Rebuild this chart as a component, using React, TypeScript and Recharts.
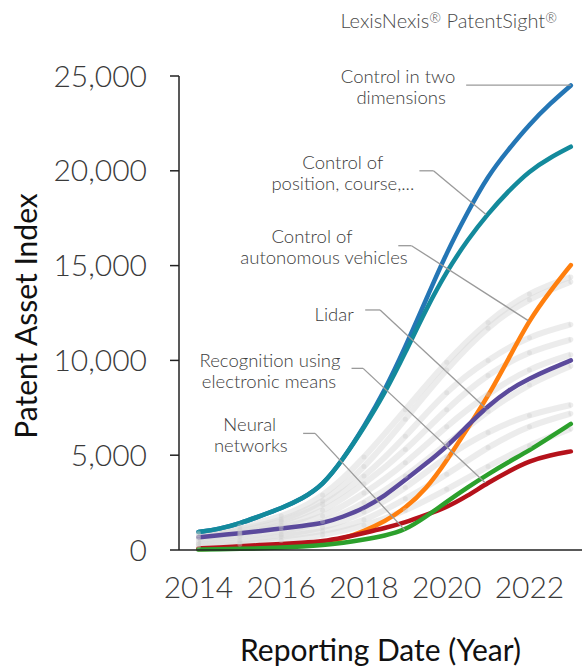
import React from "react";
import { LineChart, Line, XAxis, YAxis, ReferenceLine, ReferenceDot } from "recharts";

// reporting dates, half-year steps for the highlighted fields
const halfYears = [2014, 2014.5, 2015, 2015.5, 2016, 2016.5, 2017, 2017.5, 2018, 2018.5, 2019, 2019.5, 2020, 2020.5, 2021, 2021.5, 2022, 2022.5, 2023];
// yearly steps for the grey background fields
const years = [2014, 2015, 2016, 2017, 2018, 2019, 2020, 2021, 2022, 2023];

const yearTicks = [2014, 2016, 2018, 2020, 2022];
const valueTicks = [0, 5000, 10000, 15000, 20000, 25000];

const twoDimensions = [950, 1100, 1400, 1800, 2200, 2700, 3400, 4800, 6500, 8400, 10700, 13200, 15700, 17800, 19750, 21150, 22450, 23550, 24500];
const positionCourse = [950, 1100, 1400, 1800, 2200, 2700, 3400, 4800, 6450, 8250, 10400, 12700, 14700, 16350, 17750, 18950, 20000, 20700, 21270];
const autonomousVehicles = [50, 80, 110, 150, 200, 260, 350, 600, 1000, 1500, 2200, 3200, 4700, 6400, 8100, 10100, 12150, 13650, 15030];
const lidar = [670, 780, 880, 1000, 1140, 1270, 1400, 1750, 2200, 2850, 3700, 4550, 5450, 6550, 7600, 8450, 9050, 9550, 10000];
const recognition = [80, 130, 200, 260, 320, 380, 450, 650, 900, 1150, 1450, 1850, 2250, 2850, 3550, 4150, 4700, 5000, 5200];
const neuralNetworks = [20, 40, 60, 90, 130, 180, 250, 380, 550, 750, 1050, 1750, 2550, 3300, 4000, 4650, 5250, 5950, 6650];

const greyFields = [
  [900, 1250, 1800, 2900, 4900, 7400, 9900, 12000, 13500, 14400],
  [800, 1100, 1600, 2600, 4400, 6900, 9500, 11700, 13200, 14150],
  [700, 1000, 1500, 2400, 3900, 6000, 8300, 10000, 11200, 11900],
  [600, 900, 1300, 2100, 3500, 5300, 7400, 9200, 10400, 11100],
  [500, 800, 1200, 1800, 3000, 4600, 6500, 8200, 9500, 10300],
  [400, 700, 1000, 1500, 2500, 3900, 5600, 7300, 8700, 9700],
  [300, 500, 800, 1200, 2000, 3300, 4900, 6200, 7100, 7650],
  [300, 400, 700, 1000, 1600, 2700, 4000, 5400, 6500, 7200],
  [200, 300, 500, 800, 1300, 2100, 3200, 4400, 5500, 6400],
];

const fields = [
  { name: "Control of autonomous vehicles", values: autonomousVehicles, color: "#ff7f0e" },
  { name: "Recognition using electronic means", values: recognition, color: "#b5121b" },
  { name: "Neural networks", values: neuralNetworks, color: "#2ca02c" },
  { name: "Lidar", values: lidar, color: "#5b4a9c" },
  { name: "Control in two dimensions", values: twoDimensions, color: "#2476b5" },
  { name: "Control of position, course,...", values: positionCourse, color: "#138a9c" },
];

// callouts: text anchor and leader path in data units
const callouts = [
  { lines: ["Control in two", "dimensions"], at: [2018.85, 24960], dx: [-1, 2], path: [[2020.47, 24520], [2023, 24520]] },
  { lines: ["Control of", "position, course,..."], at: [2017.49, 20390], dx: [0, 0], path: [[2019.34, 20000], [2019.68, 20000], [2020.95, 17700]] },
  { lines: ["Control of", "autonomous vehicles"], at: [2016.89, 16520], dx: [-6, 6], path: [[2018.83, 16050], [2019.15, 16050], [2021.97, 12100]] },
  { lines: ["Lidar"], at: [2017.28, 12390], dx: [0], path: [[2018.03, 12660], [2018.39, 12660], [2020.93, 7500]] },
  { lines: ["Recognition using", "electronic means"], at: [2015.73, 9970], dx: [0, -1], path: [[2017.7, 9580], [2017.98, 9580], [2020.93, 3550]] },
  { lines: ["Neural", "networks"], at: [2015.24, 6590], dx: [0, 1], path: [[2016.53, 6150], [2016.82, 6150], [2018.99, 1050]] },
];

const FONT = "Lato, 'Open Sans', sans-serif";

const toPoints = (xs: number[], vs: number[]) => xs.map((year, i) => ({ year, v: vs[i] }));

export default function App() {
  return (
    <div style={{ position: "relative", width: 582, height: 667, fontFamily: FONT }}>
      <style>{"body{margin:0}"}</style>
      <div style={{ position: "absolute", right: 25, top: 8, fontSize: 20, color: "#4a4a4a", whiteSpace: "nowrap", fontWeight: 300 }}>
        LexisNexis<span style={{ fontSize: 14, position: "relative", top: -5 }}>®</span> PatentSight
        <span style={{ fontSize: 14, position: "relative", top: -5 }}>®</span>
      </div>
      <LineChart width={582} height={667} margin={{ top: 76, right: 0, bottom: 0, left: 0 }}>
        <XAxis
          type="number"
          dataKey="year"
          domain={[2013.53, 2023.27]}
          ticks={yearTicks}
          allowDataOverflow
          height={117}
          tickLine={false}
          tickSize={0}
          tickMargin={27}
          axisLine={{ stroke: "#222", strokeWidth: 1.5 }}
          tick={{ fontSize: 30, fontFamily: FONT, fontWeight: 300, fill: "#3a3a3a" }}
          label={{
            content: (p: any) => (
              <text x={p.viewBox.x + p.viewBox.width / 2} y={p.viewBox.y + 111} textAnchor="middle" fontSize={30} fontFamily={FONT} fill="#111">
                Reporting Date (Year)
              </text>
            ),
          }}
        />
        <YAxis
          type="number"
          domain={[0, 25000]}
          ticks={valueTicks}
          width={179}
          tickSize={9}
          tickMargin={23}
          tickFormatter={(v: number) => v.toLocaleString("en-US")}
          axisLine={{ stroke: "#222", strokeWidth: 1.5 }}
          tickLine={{ stroke: "#222", strokeWidth: 1.5 }}
          tick={{ fontSize: 30, fontFamily: FONT, fontWeight: 300, fill: "#3a3a3a" }}
          label={{
            content: (p: any) => {
              const x = p.viewBox.x + 37;
              const y = p.viewBox.y + p.viewBox.height / 2 + 3;
              return (
                <text x={x} y={y} transform={`rotate(-90, ${x}, ${y})`} textAnchor="middle" fontSize={30} fontFamily={FONT} fill="#111">
                  Patent Asset Index
                </text>
              );
            },
          }}
        />

        {greyFields.map((vals, i) => (
          <Line
            key={"g" + i}
            data={toPoints(years, vals)}
            dataKey="v"
            type="natural"
            stroke="#dadada"
            strokeOpacity={0.5}
            strokeWidth={6}
            dot={{ r: 2.5, fill: "#cccccc", fillOpacity: 0.35, stroke: "none" }}
            isAnimationActive={false}
          />
        ))}

        {fields.map((f) => (
          <Line
            key={f.name}
            name={f.name}
            data={toPoints(halfYears, f.values)}
            dataKey="v"
            type="basis"
            stroke={f.color}
            strokeWidth={4.5}
            strokeLinecap="round"
            dot={false}
            isAnimationActive={false}
          />
        ))}

        {callouts.map((c, i) =>
          c.path.slice(1).map((pt, j) => (
            <ReferenceLine
              key={`l${i}-${j}`}
              segment={[
                { x: c.path[j][0], y: c.path[j][1] },
                { x: pt[0], y: pt[1] },
              ]}
              stroke="#9a9a9a"
              strokeWidth={1.3}
              ifOverflow="visible"
            />
          ))
        )}

        {callouts.map((c, i) => (
          <ReferenceDot
            key={"t" + i}
            x={c.at[0]}
            y={c.at[1]}
            r={0}
            fill="none"
            stroke="none"
            ifOverflow="visible"
            label={(p: any) => (
              <text fontSize={18.5} fontFamily={FONT} fontWeight={300} fill="#3c3c3c" textAnchor="middle">
                {c.lines.map((ln, k) => (
                  <tspan key={k} x={p.viewBox.x + c.dx[k]} y={p.viewBox.y + 6 + k * 21}>
                    {ln}
                  </tspan>
                ))}
              </text>
            )}
          />
        ))}
      </LineChart>
    </div>
  );
}
